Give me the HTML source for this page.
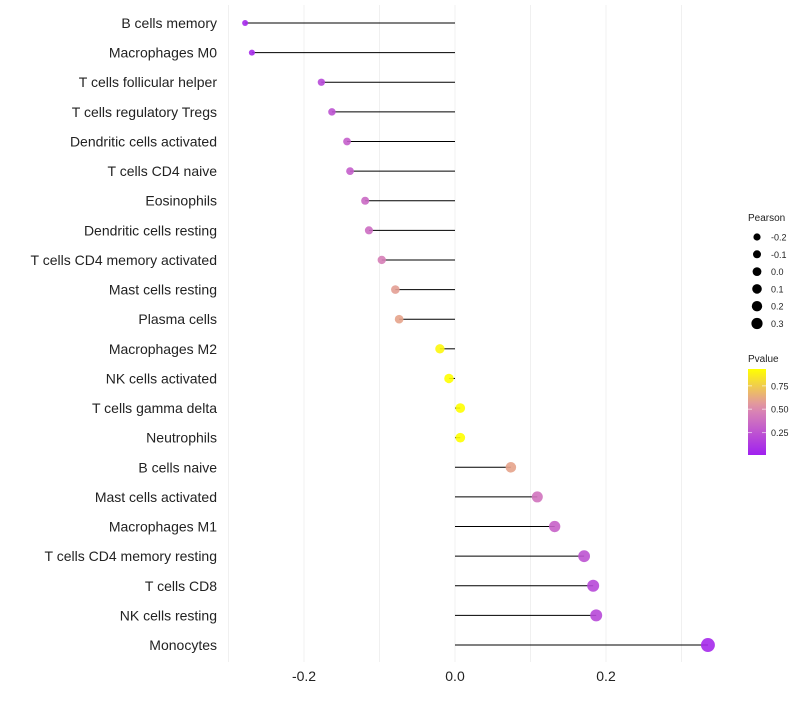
<!DOCTYPE html>
<html><head><meta charset="utf-8"><style>body{margin:0;background:#fff;font-family:"Liberation Sans",sans-serif}</style></head>
<body>
<svg id="chart" width="800" height="700" xmlns="http://www.w3.org/2000/svg"></svg>
<script>
const categories=["B cells memory","Macrophages M0","T cells follicular helper","T cells regulatory  Tregs ","Dendritic cells activated","T cells CD4 naive","Eosinophils","Dendritic cells resting","T cells CD4 memory activated","Mast cells resting","Plasma cells","Macrophages M2","NK cells activated","T cells gamma delta","Neutrophils","B cells naive","Mast cells activated","Macrophages M1","T cells CD4 memory resting","T cells CD8","NK cells resting","Monocytes"];
const pearson=[-0.278,-0.269,-0.177,-0.163,-0.143,-0.139,-0.119,-0.114,-0.097,-0.079,-0.074,-0.020,-0.008,0.007,0.007,0.074,0.109,0.132,0.171,0.183,0.187,0.335];
const pvalue=[0.05,0.06,0.2,0.25,0.3,0.3,0.35,0.37,0.45,0.58,0.6,0.9,0.95,0.97,0.97,0.6,0.4,0.32,0.25,0.2,0.2,0.05];
const xTicks=[-0.2,0,0.2];
const sizeLegend=[-0.2,-0.1,0.0,0.1,0.2,0.3];
const colorTicks=[0.25,0.5,0.75];
const NS="http://www.w3.org/2000/svg",svg=document.getElementById('chart');
const x=v=>455+v*755, y=i=>23+i*29.62, r=v=>4.8+6.5*v;
function col(p){const t=Math.max(0,Math.min(1,(p-0.01)/0.92));const a=[160,32,240],m=[222,140,175],b=[255,255,0];let c;if(t<0.55){const s=t/0.55;c=a.map((v,k)=>v+(m[k]-v)*s)}else{const s=(t-0.55)/0.45;c=m.map((v,k)=>v+(b[k]-v)*s)}return`rgb(${c.map(Math.round).join(',')})`}
function el(tag,at,txt){const e=document.createElementNS(NS,tag);for(const k in at)e.setAttribute(k,at[k]);if(txt!==undefined)e.textContent=txt;svg.appendChild(e);return e}
[-0.3,-0.2,-0.1,0,0.1,0.2,0.3].forEach(v=>{const g=el('line',{x1:x(v),x2:x(v),y1:5,y2:662,stroke:'#f0f0f0','stroke-width':1});});
xTicks.forEach(v=>{const t=el('text',{x:x(v),y:681,'font-size':14,'text-anchor':'middle',fill:'#222'},v===0?'0.0':v.toFixed(1));});
categories.forEach((c,i)=>{
const t=el('text',{x:217,y:y(i)+5,'font-size':14,'text-anchor':'end',fill:'#222'},c);
const l=el('line',{x1:x(0),x2:x(pearson[i]),y1:y(i),y2:y(i),stroke:'#000','stroke-width':1});
const d=el('circle',{cx:x(pearson[i]),cy:y(i),r:r(pearson[i]),fill:col(pvalue[i]),'fill-opacity':0.9});});
const pt=el('text',{x:748,y:221,'font-size':10,fill:'#222'},'Pearson');
sizeLegend.forEach((v,i)=>{const cy=237+i*17.3;const c=el('circle',{cx:757,cy:cy,r:3.8+4*v+0.6,fill:'#000'});
const t=el('text',{x:771,y:cy+3.5,'font-size':9,fill:'#222'},v.toFixed(1));});
const ct=el('text',{x:748,y:362,'font-size':10,fill:'#222'},'Pvalue');
const defs=el('defs',{});const lg=document.createElementNS(NS,'linearGradient');lg.setAttribute('id','g');lg.setAttribute('x1',0);lg.setAttribute('y1',1);lg.setAttribute('x2',0);lg.setAttribute('y2',0);defs.appendChild(lg);
for(let k=0;k<=10;k++){const s=document.createElementNS(NS,'stop');s.setAttribute('offset',k/10);s.setAttribute('stop-color',col(0.01+0.92*k/10));lg.appendChild(s)}
const cb=el('rect',{x:748,y:369,width:18,height:86,fill:'url(#g)'});
colorTicks.forEach(v=>{const cy=455-(v-0.01)/0.92*86;el('line',{x1:748,x2:752,y1:cy,y2:cy,stroke:'#fff','stroke-opacity':0.6});el('line',{x1:762,x2:766,y1:cy,y2:cy,stroke:'#fff','stroke-opacity':0.6});
const t=el('text',{x:771,y:cy+3.5,'font-size':9,fill:'#222'},v.toFixed(2));});
</script>
</body></html>
